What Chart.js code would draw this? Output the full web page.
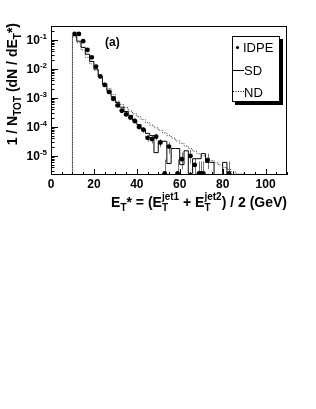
<!DOCTYPE html>
<html>
<head>
<meta charset="utf-8">
<script src="https://cdn.jsdelivr.net/npm/chart.js@4.4.1/dist/chart.umd.min.js"></script>
<style>
  html, body { margin: 0; padding: 0; background: #fff; }
  canvas { display: block; }
</style>
</head>
<body>
<canvas id="chart" width="316" height="409"></canvas>
<script>
// bin edges of the SD / ND histograms (GeV)
const binEdges = [10,12,14,16,18,20,22,24,26,28,30,32,34,36,38,40,42,44,46,48,50,
  52,54,56,58,60,62,64,66,68,70,72,74,76,78,80,82,84,86,88,90];

// SD (solid) histogram content per bin
const sdValues = [0.14,0.14,0.09,0.055,0.032,0.018,0.0098,0.0053,0.003,0.0018,
  0.0011,0.0007,0.00048,0.00034,0.00025,0.00017,0.00012,0.000085,0.00006,0.00005,
  0.000013,0.000032,0.000032,0.0000055,0.000018,0.000018,0.000005,0.000015,0.0000025,0.000008,
  0.000008,0.000012,0.000006,0.000006,0.0000001,0.0000001,0.000006,0.0000001,0.0000001,0.0000001];

// ND (dotted) histogram content per bin
const ndValues = [0.132,0.126,0.079,0.045,0.025,0.0148,0.0089,0.0054,0.0033,0.0021,
  0.0013,0.00076,0.00059,0.00046,0.00035,0.00028,0.000224,0.000178,0.000141,0.000115,
  0.000093,0.000076,0.000062,0.00005,0.000041,0.000033,0.000027,0.000022,0.0000178,0.0000145,
  0.000012,0.00001,0.0000083,0.0000069,0.0000058,0.0000048,0.000004,0.0000034,0.0000029,0.0000024];

// IDPE data points with error bars
const idpeX = [11,13,15,17,19,21,23,25,27,29,31,33,35,37,39,41,43,45,47,49,51,53,55,59,61,65,67,69,70,71,73,83];
const idpeY = [0.16,0.16,0.09,0.045,0.025,0.012,0.0055,0.0028,0.0016,0.00093,0.00055,0.00036,0.00027,0.00021,
  0.00016,0.0001,0.00008,0.000042,0.000038,0.000046,0.000029,0.0000025,0.000021,0.0000025,0.0000077,0.00001,
  0.0000049,0.0000025,0.0000025,0.0000025,0.0000072,0.0000025];
const idpeHi = [0.165,0.165,0.093,0.047,0.026,0.0126,0.0058,0.003,0.0017,0.001,0.0006,0.0004,0.0003,0.00024,
  0.00019,0.00012,0.000097,0.000053,0.000049,0.000058,0.000038,0.0000075,0.00003,0.0000075,0.000013,0.000016,
  0.0000085,0.0000065,0.0000065,0.0000065,0.000012,0.0000065];
const idpeLo = [0.155,0.155,0.087,0.043,0.024,0.0114,0.0052,0.0026,0.0015,0.00086,0.0005,0.00032,0.00024,0.00018,
  0.00013,0.00008,0.000063,0.000031,0.000027,0.000034,0.00002,0.0000025,0.000012,0.0000025,0.0000035,0.0000055,
  0.000002,0.0000025,0.0000025,0.0000025,0.0000035,0.0000025];

const xTicks = [0, 20, 40, 60, 80, 100];
const yTickExp = [-1, -2, -3, -4, -5];
const legendItems = ["IDPE", "SD", "ND"];

const FONT = '"Liberation Sans", Arial, Helvetica, sans-serif';
const FLOOR = 1e-8;

// step histogram points for a stepped line
function histPoints(values) {
  const pts = [{ x: binEdges[0], y: FLOOR }];
  values.forEach((v, i) => pts.push({ x: binEdges[i], y: v }));
  pts.push({ x: binEdges[binEdges.length - 1], y: values[values.length - 1] });
  pts.push({ x: binEdges[binEdges.length - 1], y: FLOOR });
  return pts;
}

// text with sub/superscripts; parts: [text, kind] kinds: n, sub, sup, subsup
function richWidth(ctx, parts, size) {
  let w = 0;
  parts.forEach(p => {
    if (p[1] === "n") { ctx.font = "bold " + size + "px " + FONT; w += ctx.measureText(p[0]).width; }
    else if (p[1] === "subsup") {
      ctx.font = "bold " + Math.round(size * 0.7) + "px " + FONT;
      w += Math.max(ctx.measureText(p[0]).width, ctx.measureText(p[2]).width);
    } else { ctx.font = "bold " + Math.round(size * 0.7) + "px " + FONT; w += ctx.measureText(p[0]).width; }
  });
  return w;
}
function richDraw(ctx, parts, size, x, y) {
  const small = Math.round(size * 0.7);
  parts.forEach(p => {
    if (p[1] === "n") {
      ctx.font = "bold " + size + "px " + FONT;
      ctx.fillText(p[0], x, y); x += ctx.measureText(p[0]).width;
    } else if (p[1] === "sub") {
      ctx.font = "bold " + small + "px " + FONT;
      ctx.fillText(p[0], x, y + size * 0.3); x += ctx.measureText(p[0]).width;
    } else if (p[1] === "sup") {
      ctx.font = "bold " + small + "px " + FONT;
      ctx.fillText(p[0], x, y - size * 0.45); x += ctx.measureText(p[0]).width;
    } else {
      ctx.font = "bold " + small + "px " + FONT;
      ctx.fillText(p[0], x, y + size * 0.3);
      ctx.fillText(p[2], x, y - size * 0.5);
      x += Math.max(ctx.measureText(p[0]).width, ctx.measureText(p[2]).width);
    }
  });
}

const errorBars = {
  id: "errorBars",
  beforeDatasetsDraw(chart) {
    const { ctx, chartArea: a, scales: { x, y } } = chart;
    ctx.save();
    ctx.beginPath();
    ctx.rect(a.left, a.top, a.right - a.left, a.bottom - a.top);
    ctx.clip();
    ctx.strokeStyle = "#777";
    ctx.lineWidth = 1;
    idpeX.forEach((v, i) => {
      const px = Math.round(x.getPixelForValue(v)) + 0.5;
      ctx.beginPath();
      ctx.moveTo(px, y.getPixelForValue(idpeLo[i]));
      ctx.lineTo(px, y.getPixelForValue(idpeHi[i]));
      ctx.stroke();
    });
    ctx.restore();
  }
};

const decorations = {
  id: "decorations",
  afterDraw(chart) {
    const { ctx, chartArea: a, scales: { x, y } } = chart;
    ctx.save();
    ctx.strokeStyle = "#000";
    ctx.fillStyle = "#000";
    ctx.lineWidth = 1;
    // frame
    ctx.strokeRect(a.left + 0.5, a.top + 0.5, a.right - a.left - 1, a.bottom - a.top - 1);

    // x ticks (inside)
    ctx.beginPath();
    for (let v = 0; v <= 110; v += 5) {
      const px = Math.round(x.getPixelForValue(v)) + 0.5;
      const len = v % 20 === 0 ? 6 : 3;
      ctx.moveTo(px, a.bottom); ctx.lineTo(px, a.bottom - len);
    }
    // y ticks (inside)
    for (let e = -6; e <= 0; e++) {
      for (let m = 1; m <= 9; m++) {
        const v = m * Math.pow(10, e);
        if (v < y.min || v > y.max) continue;
        const py = Math.round(y.getPixelForValue(v)) + 0.5;
        ctx.moveTo(a.left, py); ctx.lineTo(a.left + (m === 1 ? 7 : 3.5), py);
      }
    }
    ctx.stroke();

    // x tick labels
    ctx.font = "bold 12px " + FONT;
    ctx.textAlign = "center";
    ctx.textBaseline = "alphabetic";
    xTicks.forEach(v => ctx.fillText(String(v), x.getPixelForValue(v), a.bottom + 12.5));

    // y tick labels 10^n
    ctx.textAlign = "left";
    yTickExp.forEach(e => {
      const py = y.getPixelForValue(Math.pow(10, e));
      ctx.font = "bold 8px " + FONT;
      const ew = ctx.measureText(String(e)).width;
      ctx.font = "bold 12px " + FONT;
      const bw = ctx.measureText("10").width;
      const right = a.left - 4;
      ctx.fillText("10", right - ew - bw, py + 4.5);
      ctx.font = "bold 8px " + FONT;
      ctx.fillText(String(e), right - ew, py - 1);
    });

    // "(a)"
    ctx.font = "bold 12px " + FONT;
    ctx.fillText("(a)", 105, 46);

    // x title
    const xt = [["E", "n"], ["T", "sub"], ["* = (E", "n"], ["T", "subsup", "jet1"], [" + E", "n"],
      ["T", "subsup", "jet2"], [") / 2 (GeV)", "n"]];
    const xw = richWidth(ctx, xt, 14);
    richDraw(ctx, xt, 14, a.right - xw, 206.5);

    // y title (rotated)
    const yt = [["1 / N", "n"], ["TOT", "sub"], [" (dN / dE", "n"], ["T", "sub"], ["*)", "n"]];
    const yw = richWidth(ctx, yt, 14);
    ctx.save();
    ctx.translate(17, 23 + yw);
    ctx.rotate(-Math.PI / 2);
    richDraw(ctx, yt, 14, 0, 0);
    ctx.restore();

    // legend box with shadow
    ctx.fillRect(280, 39, 3, 66);
    ctx.fillRect(235, 102, 48, 3);
    ctx.fillStyle = "#fff";
    ctx.fillRect(232.5, 36.5, 47, 65);
    ctx.fillStyle = "#000";
    ctx.strokeRect(232.5, 36.5, 47, 65);
    ctx.font = "13px " + FONT;
    ctx.textAlign = "left";
    ctx.beginPath(); ctx.arc(237.5, 47.5, 1.6, 0, Math.PI * 2); ctx.fill();
    ctx.fillText(legendItems[0], 243, 52);
    ctx.beginPath(); ctx.moveTo(233, 70.5); ctx.lineTo(244, 70.5); ctx.stroke();
    ctx.fillText(legendItems[1], 244, 75);
    ctx.setLineDash([1, 1.5]);
    ctx.beginPath(); ctx.moveTo(233, 91.5); ctx.lineTo(244, 91.5); ctx.stroke();
    ctx.setLineDash([]);
    ctx.fillText(legendItems[2], 244, 96.5);
    ctx.restore();
  }
};

new Chart(document.getElementById("chart"), {
  type: "line",
  data: {
    datasets: [
      {
        label: "ND",
        data: histPoints(ndValues),
        stepped: "after",
        borderColor: "#333",
        borderWidth: 1,
        borderDash: [1, 1.5],
        pointRadius: 0,
        fill: false
      },
      {
        label: "SD",
        data: histPoints(sdValues),
        stepped: "after",
        borderColor: "#000",
        borderWidth: 1,
        pointRadius: 0,
        fill: false,
        segment: { borderColor: ctx => ctx.p0DataIndex === 0 ? "#888" : "#000" }
      },
      {
        label: "IDPE",
        data: idpeX.map((v, i) => ({ x: v, y: idpeY[i] })),
        showLine: false,
        pointRadius: 2.4,
        pointBackgroundColor: "#000",
        pointBorderColor: "#000",
        pointBorderWidth: 0
      }
    ]
  },
  options: {
    responsive: false,
    animation: false,
    devicePixelRatio: 1,
    layout: { padding: { left: 51, top: 26, right: 29, bottom: 234 } },
    plugins: { legend: { display: false }, tooltip: { enabled: false } },
    scales: {
      x: { type: "linear", min: 0, max: 110, display: false },
      y: { type: "logarithmic", min: 2.2e-6, max: 0.3, display: false }
    }
  },
  plugins: [errorBars, decorations]
});
</script>
</body>
</html>
